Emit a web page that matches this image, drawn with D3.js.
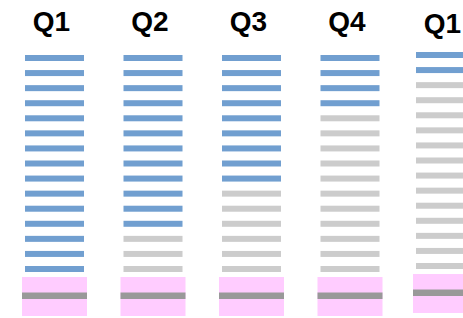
<!DOCTYPE html>
<html>
<head>
<meta charset="utf-8">
<script src="https://cdn.jsdelivr.net/npm/d3@7"></script>
<style>
  body { margin: 0; background: #fff; }
  svg { display: block; }
</style>
</head>
<body>
<svg id="chart" width="463" height="318"></svg>
<script>
// quarter labels and how many of the 15 rows are filled (blue) in each
var quarters = ["Q1", "Q2", "Q3", "Q4", "Q1"];
var filled = [15, 12, 9, 4, 2];
var rowCount = 15;
// the last column is offset a little (bars higher, label lower)
var shiftX = [0, 0, 0, 0, -3];
var shiftY = [0, 0, 0, 0, -3];
var labelShiftY = [0, 0, 0, 0, 5.5];

var svg = d3.select("#chart"),
    width = +svg.attr("width"),
    height = +svg.attr("height");

var x = d3.scaleLinear()
    .domain([0, 4])
    .range([54.5, 448.5]);

var y = d3.scaleLinear()
    .domain([0, rowCount - 1])
    .range([58, 269]);

var barW = 59, barH = 6;

var cols = svg.selectAll("g.col")
  .data(quarters)
  .enter().append("g")
    .attr("class", "col")
    .attr("transform", function(d, i) {
      return "translate(" + (x(i) + shiftX[i]) + "," + shiftY[i] + ")";
    });

cols.append("text")
    .attr("x", -3)
    .attr("y", function(d, i) { return 30.5 + labelShiftY[i]; })
    .attr("text-anchor", "middle")
    .attr("font-family", "Liberation Sans, Arial, sans-serif")
    .attr("font-weight", "bold")
    .attr("font-size", 28)
    .attr("fill", "#000")
    .text(function(d) { return d; });

cols.each(function(q, i) {
  var rows = d3.range(rowCount);
  d3.select(this).selectAll("rect.row")
    .data(rows)
    .enter().append("rect")
      .attr("class", "row")
      .attr("x", -barW / 2)
      .attr("y", function(r) { return y(r) - barH / 2; })
      .attr("width", barW)
      .attr("height", barH)
      .attr("fill", function(r) { return r < filled[i] ? "#719fd0" : "#cccccc"; });
});

// pink base with grey rule
cols.append("rect")
    .attr("x", -32.5)
    .attr("y", 277)
    .attr("width", 65)
    .attr("height", 39)
    .attr("fill", "#ffccff");

cols.append("rect")
    .attr("x", -32.5)
    .attr("y", 292.5)
    .attr("width", 65)
    .attr("height", 6.5)
    .attr("fill", "#999999");
</script>
</body>
</html>
